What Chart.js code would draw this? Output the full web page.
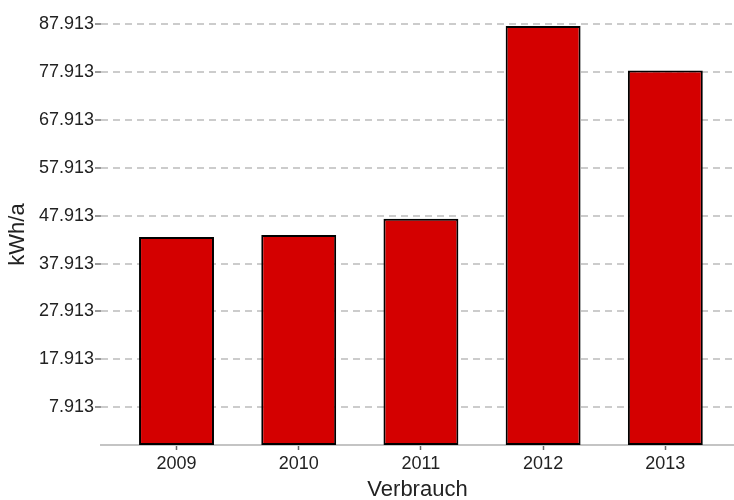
<!DOCTYPE html>
<html>
<head>
<meta charset="utf-8">
<script src="https://cdn.jsdelivr.net/npm/chart.js@4/dist/chart.umd.min.js"></script>
<style>
  html, body { margin: 0; padding: 0; background: #fff; }
  #wrap { width: 734px; height: 500px; }
</style>
</head>
<body>
<div id="wrap"><canvas id="barChart"></canvas></div>
<script>
// Jahre (x-Achse)
var jahre = ["2009", "2010", "2011", "2012", "2013"];
// Verbrauch in kWh/a
var verbrauch = [43500, 43900, 47300, 87600, 78300];
// Beschriftungen der y-Achse
var yTicks = [7913, 17913, 27913, 37913, 47913, 57913, 67913, 77913, 87913];

// Tausenderpunkt wie im Original
function formatDe(v) {
    return Math.round(v).toString().replace(/\B(?=(\d{3})+(?!\d))/g, ".");
}

var punkte = verbrauch.map(function (v, i) { return { x: i, y: v }; });

var ctx = document.getElementById("barChart");
var myChart = new Chart(ctx, {
    type: 'bar',
    data: {
        datasets: [{
            label: "Verbrauch",
            data: punkte,
            backgroundColor: "#d40000",
            borderColor: "#000000",
            borderWidth: 2,
            borderSkipped: false,
            categoryPercentage: 1,
            barPercentage: 0.613
        }]
    },
    options: {
        responsive: true,
        maintainAspectRatio: false,
        animation: false,
        layout: { padding: { top: 24, right: 0, left: 0, bottom: 0 } },
        plugins: {
            legend: { display: false },
            tooltip: { enabled: false }
        },
        scales: {
            x: {
                type: 'linear',
                offset: false,
                min: -0.618,
                max: 4.562,
                afterBuildTicks: function (scale) {
                    scale.ticks = jahre.map(function (j, i) { return { value: i }; });
                },
                afterFit: function (scale) { scale.height = 55; },
                ticks: {
                    color: '#222',
                    font: { family: "'Liberation Sans', Arial, sans-serif", size: 18 },
                    padding: 3,
                    callback: function (value) { return jahre[value]; }
                },
                grid: {
                    offset: false,
                    drawOnChartArea: false,
                    drawTicks: true,
                    tickLength: 5,
                    tickColor: '#666',
                    tickWidth: 1.5
                },
                border: { display: true, color: '#c4c4c4', width: 2 },
                title: {
                    display: true,
                    text: 'Verbrauch',
                    color: '#222',
                    font: { family: "'Liberation Sans', Arial, sans-serif", size: 22 },
                    padding: { top: 0, bottom: -3 }
                }
            },
            y: {
                min: 0,
                max: 88000,
                afterBuildTicks: function (scale) {
                    scale.ticks = yTicks.map(function (v) { return { value: v }; });
                },
                afterFit: function (scale) { scale.width = 101; },
                ticks: {
                    color: '#222',
                    font: { family: "'Liberation Sans', Arial, sans-serif", size: 18 },
                    padding: 1,
                    callback: function (value) { return formatDe(value); }
                },
                grid: {
                    color: '#cccccc',
                    lineWidth: 2,
                    drawTicks: true,
                    tickLength: 6,
                    tickColor: '#777',
                    tickWidth: 1.5,
                    tickBorderDash: []
                },
                border: { display: false, dash: [7, 5] },
                title: {
                    display: true,
                    text: 'kWh/a',
                    color: '#222',
                    font: { family: "'Liberation Sans', Arial, sans-serif", size: 22 },
                    padding: { top: 5, bottom: 0 }
                }
            }
        }
    }
});
</script>
</body>
</html>
